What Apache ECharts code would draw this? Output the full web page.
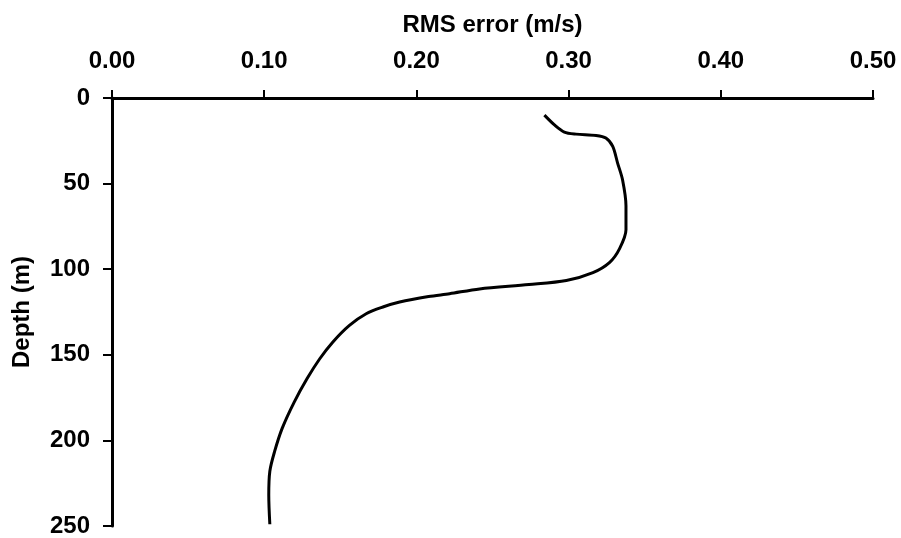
<!DOCTYPE html>
<html>
<head>
<meta charset="utf-8">
<script src="https://cdn.jsdelivr.net/npm/echarts@6/dist/echarts.min.js"></script>
<style>
    html, body { margin: 0; padding: 0; background: #fff; }
    #chart { width: 901px; height: 538px; }
</style>
</head>
<body>
<div id="chart"></div>
<script>
// depth (m) and RMS error (m/s)
const depths = [10, 15.7, 19.9, 21.1, 21.9, 23.4, 28.3, 38, 48, 63, 77, 88, 96, 102, 106.6, 109, 111.5, 114.3, 116, 119.2, 122.1, 126, 132.8, 142.6, 152.3, 163.9, 177.5, 193, 206.6, 218, 232, 249];
const rmsError = [0.2841, 0.2907, 0.2972, 0.3049, 0.318, 0.3245, 0.329, 0.3322, 0.3355, 0.3377, 0.3377, 0.3335, 0.327, 0.316, 0.2985, 0.274, 0.2415, 0.2218, 0.2080, 0.189, 0.178, 0.167, 0.156, 0.145, 0.1365, 0.1282, 0.1198, 0.1118, 0.1068, 0.1037, 0.103, 0.1037];

const labelFont = {
    fontFamily: 'Liberation Sans, Arial, sans-serif',
    fontWeight: 'bold',
    color: '#000',
};

const myChart = echarts.init(document.getElementById('chart'));
const option = {
    backgroundColor: '#fff',
    animation: false,
    grid: {
        left: 112,
        right: 28,
        top: 98,
        bottom: 10,
    },
    xAxis: {
        type: 'value',
        position: 'top',
        min: 0,
        max: 0.5,
        interval: 0.1,
        name: 'RMS error (m/s)',
        nameLocation: 'middle',
        nameGap: 61,
        nameTextStyle: Object.assign({ fontSize: 24 }, labelFont),
        axisLine: { show: true, lineStyle: { color: '#000', width: 3 } },
        axisTick: { show: true, inside: false, length: 8, lineStyle: { color: '#000', width: 2 } },
        axisLabel: Object.assign({
            fontSize: 24,
            margin: 25,
            formatter: v => v.toFixed(2),
        }, labelFont),
        splitLine: { show: false },
    },
    yAxis: {
        type: 'value',
        inverse: true,
        min: 0,
        max: 250,
        interval: 50,
        name: 'Depth (m)',
        nameLocation: 'middle',
        nameGap: 78,
        nameRotate: 90,
        nameTextStyle: Object.assign({ fontSize: 24 }, labelFont),
        axisLine: { show: true, lineStyle: { color: '#000', width: 3 } },
        axisTick: { show: true, inside: false, length: 9, lineStyle: { color: '#000', width: 2 } },
        axisLabel: Object.assign({ fontSize: 24, margin: 22 }, labelFont),
        splitLine: { show: false },
    },
    series: [
        {
            type: 'line',
            data: depths.map((d, i) => [rmsError[i], d]),
            smooth: 0.3,
            showSymbol: false,
            lineStyle: { color: '#000', width: 3 },
        },
    ],
};
myChart.setOption(option);
</script>
</body>
</html>
